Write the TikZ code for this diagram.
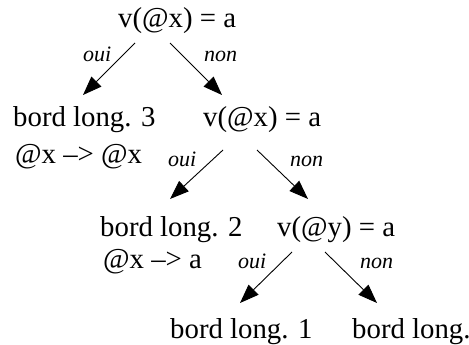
\documentclass[tikz,border=0pt]{standalone}
\usepackage{fontspec}
\setmainfont{Liberation Serif}
\usetikzlibrary{arrows.meta}
\tikzset{
  txt/.style={anchor=base west, inner sep=0pt, font=\fontsize{28.8}{34}\selectfont},
  lbl/.style={anchor=base west, inner sep=0pt, font=\fontsize{22}{26}\selectfont\itshape},
  branch/.style={line width=0.9pt, -{Triangle[length=19pt,width=14pt]}}
}
\begin{document}
\begin{tikzpicture}[x=1pt,y=-1pt]
\useasboundingbox (0,0) rectangle (469,345);
% test nodes and leaves
\node[txt] (testA) at (118,28) {v(@x) = a};
\node[txt] (leafC) at (13,126) {bord long. 3};
\node[txt] (actC) at (15,163) {@x --> @x};
\node[txt] (testB) at (203,126) {v(@x) = a};
\node[txt] (leafB) at (100,236) {bord long. 2};
\node[txt] (actB) at (103,268) {@x --> a};
\node[txt] (testC) at (277,236) {v(@y) = a};
\node[txt] (leafA) at (170,338) {bord long. 1};
\node[txt] (leafD) at (352,338) {bord long.};
% branch ends
\coordinate (aL) at (135,43);  \coordinate (aLt) at (83,95);
\coordinate (aR) at (170,43);  \coordinate (aRt) at (222,95);
\coordinate (bL) at (223,150); \coordinate (bLt) at (170,199);
\coordinate (bR) at (257,150); \coordinate (bRt) at (308,199);
\coordinate (cL) at (292,252); \coordinate (cLt) at (240,303);
\coordinate (cR) at (325,252); \coordinate (cRt) at (377,303);
\draw[branch] (aL) -- (aLt);
\draw[branch] (aR) -- (aRt);
\draw[branch] (bL) -- (bLt);
\draw[branch] (bR) -- (bRt);
\draw[branch] (cL) -- (cLt);
\draw[branch] (cR) -- (cRt);
% yes / no labels
\node[lbl] (ouiA) at (83,62) {oui};
\node[lbl] (nonA) at (204,62) {non};
\node[lbl] (ouiB) at (168,166) {oui};
\node[lbl] (nonB) at (290,166) {non};
\node[lbl] (ouiC) at (238,268) {oui};
\node[lbl] (nonC) at (360,268) {non};
\end{tikzpicture}
\end{document}
